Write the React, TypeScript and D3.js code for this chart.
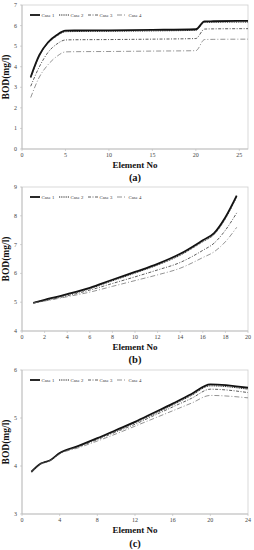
import React from "react";
import * as d3 from "d3";

const caseNames = ["Case 1", "Case 2", "Case 3", "Case 4"];

// Panel (a)
const xA = [1, 2, 3, 4, 5, 6, 10, 15, 20, 21, 22, 26];
const a1 = [3.5, 4.57, 5.19, 5.54, 5.75, 5.76, 5.77, 5.79, 5.82, 6.2, 6.21, 6.23];
const a2 = [3.45, 4.52, 5.14, 5.49, 5.7, 5.71, 5.72, 5.74, 5.77, 6.15, 6.16, 6.17];
const a3 = [3.05, 4.0, 4.7, 5.1, 5.3, 5.31, 5.32, 5.34, 5.37, 5.83, 5.84, 5.85];
const a4 = [2.5, 3.5, 4.1, 4.5, 4.72, 4.73, 4.74, 4.76, 4.78, 5.32, 5.33, 5.34];
const yTicksA = [0, 1, 2, 3, 4, 5, 6, 7];
const xTicksA = [0, 5, 10, 15, 20, 25];

// Panel (b)
const xB = [1, 2, 4, 6, 8, 10, 12, 14, 16, 17, 18, 19];
const b1 = [4.98, 5.08, 5.28, 5.5, 5.78, 6.05, 6.33, 6.68, 7.15, 7.4, 7.95, 8.7];
const b2 = [4.98, 5.07, 5.26, 5.47, 5.74, 6.01, 6.29, 6.63, 7.1, 7.35, 7.9, 8.65];
const b3 = [4.98, 5.05, 5.22, 5.42, 5.65, 5.88, 6.12, 6.38, 6.8, 7.05, 7.5, 8.1];
const b4 = [4.97, 5.04, 5.19, 5.35, 5.55, 5.75, 5.95, 6.18, 6.55, 6.75, 7.1, 7.6];
const yTicksB = [4, 5, 6, 7, 8, 9];
const xTicksB = [0, 2, 4, 6, 8, 10, 12, 14, 16, 18, 20];

// Panel (c)
const xC = [1, 2, 3, 4, 6, 8, 10, 12, 14, 16, 18, 20, 24];
const c1 = [3.88, 4.05, 4.12, 4.27, 4.42, 4.58, 4.75, 4.92, 5.11, 5.3, 5.5, 5.7, 5.63];
const c2 = [3.88, 4.05, 4.12, 4.26, 4.41, 4.57, 4.73, 4.9, 5.08, 5.27, 5.47, 5.67, 5.6];
const c3 = [3.88, 4.05, 4.12, 4.26, 4.4, 4.55, 4.71, 4.87, 5.05, 5.23, 5.41, 5.6, 5.53];
const c4 = [3.87, 4.04, 4.11, 4.25, 4.38, 4.52, 4.67, 4.83, 4.99, 5.15, 5.31, 5.47, 5.42];
const yTicksC = [3, 4, 5, 6];
const xTicksC = [0, 4, 8, 12, 16, 20, 24];

const styles = [
  { stroke: "#111", width: 1.8, dash: "" },
  { stroke: "#222", width: 1.0, dash: "1,0.8" },
  { stroke: "#333", width: 0.8, dash: "3,1.5,1,1.5" },
  { stroke: "#666", width: 0.7, dash: "5,2,1,2" },
];

type PanelProps = {
  top: number;
  bottom: number;
  xDomain: [number, number];
  yDomain: [number, number];
  xTicks: number[];
  yTicks: number[];
  xs: number[];
  series: number[][];
  label: string;
  xLabelY: number;
  tagY: number;
  legendY: number;
};

function Panel(p: PanelProps) {
  const left = 22;
  const right = 248;
  const x = d3.scaleLinear().domain(p.xDomain).range([left, right]);
  const y = d3.scaleLinear().domain(p.yDomain).range([p.bottom, p.top]);
  const line = d3
    .line<number>()
    .x((_, i) => x(p.xs[i]))
    .y((d) => y(d))
    .curve(d3.curveMonotoneX);
  const legendX = [30, 59, 88, 117];
  return (
    <g>
      <rect x={left} y={p.top} width={right - left} height={p.bottom - p.top} fill="none" stroke="#cfcfcf" strokeWidth={0.8} />
      <line x1={left} x2={left} y1={p.top} y2={p.bottom} stroke="#bbb" strokeWidth={0.8} />
      <line x1={left} x2={right} y1={p.bottom} y2={p.bottom} stroke="#bbb" strokeWidth={0.8} />
      {p.yTicks.map((t) => (
        <g key={"y" + t}>
          <line x1={left - 2} x2={left} y1={y(t)} y2={y(t)} stroke="#bbb" strokeWidth={0.6} />
          <text x={left - 5} y={y(t) + 2} fontSize={6} textAnchor="end" fill="#444" fontFamily="Liberation Serif">
            {t}
          </text>
        </g>
      ))}
      {p.xTicks.map((t) => (
        <g key={"x" + t}>
          <line x1={x(t)} x2={x(t)} y1={p.bottom} y2={p.bottom + 2} stroke="#bbb" strokeWidth={0.6} />
          <text x={x(t)} y={p.bottom + 8} fontSize={6} textAnchor="middle" fill="#444" fontFamily="Liberation Serif">
            {t}
          </text>
        </g>
      ))}
      {p.series.map((s, i) => (
        <path
          key={"s" + i}
          d={line(s) || ""}
          fill="none"
          stroke={styles[i].stroke}
          strokeWidth={styles[i].width}
          strokeDasharray={styles[i].dash}
        />
      ))}
      {caseNames.map((n, i) => (
        <g key={n}>
          <line
            x1={legendX[i]}
            x2={legendX[i] + 10}
            y1={p.legendY}
            y2={p.legendY}
            stroke={styles[i].stroke}
            strokeWidth={styles[i].width}
            strokeDasharray={styles[i].dash}
          />
          <text x={legendX[i] + 11.5} y={p.legendY + 1.6} fontSize={4.8} fill="#333" fontFamily="Liberation Serif">
            {n}
          </text>
        </g>
      ))}
      <text
        transform={`translate(9,${(p.top + p.bottom) / 2}) rotate(-90)`}
        textAnchor="middle"
        fontSize={9.5}
        fontWeight="bold"
        fontFamily="Liberation Serif"
        fill="#111"
      >
        BOD(mg/l)
      </text>
      <text x={(left + right) / 2} y={p.xLabelY} textAnchor="middle" fontSize={9} fontWeight="bold" fontFamily="Liberation Serif" fill="#111">
        Element No
      </text>
      <text x={(left + right) / 2} y={p.tagY} textAnchor="middle" fontSize={10.5} fontWeight="bold" fontFamily="Liberation Serif" fill="#111">
        {p.label}
      </text>
    </g>
  );
}

export default function App() {
  return (
    <svg width={254} height={550} style={{ position: "absolute", left: 0, top: 0, background: "#fff" }}>
      <rect width={254} height={550} fill="#fff" />
      <Panel
        top={5}
        bottom={149}
        xDomain={[0, 26]}
        yDomain={[0, 7]}
        xTicks={xTicksA}
        yTicks={yTicksA}
        xs={xA}
        series={[a1, a2, a3, a4]}
        label="(a)"
        xLabelY={168}
        tagY={181}
        legendY={15}
      />
      <Panel
        top={187}
        bottom={331}
        xDomain={[0, 20]}
        yDomain={[4, 9]}
        xTicks={xTicksB}
        yTicks={yTicksB}
        xs={xB}
        series={[b1, b2, b3, b4]}
        label="(b)"
        xLabelY={350}
        tagY={363}
        legendY={197}
      />
      <Panel
        top={370}
        bottom={514}
        xDomain={[0, 24]}
        yDomain={[3, 6]}
        xTicks={xTicksC}
        yTicks={yTicksC}
        xs={xC}
        series={[c1, c2, c3, c4]}
        label="(c)"
        xLabelY={533}
        tagY={547}
        legendY={380}
      />
    </svg>
  );
}
